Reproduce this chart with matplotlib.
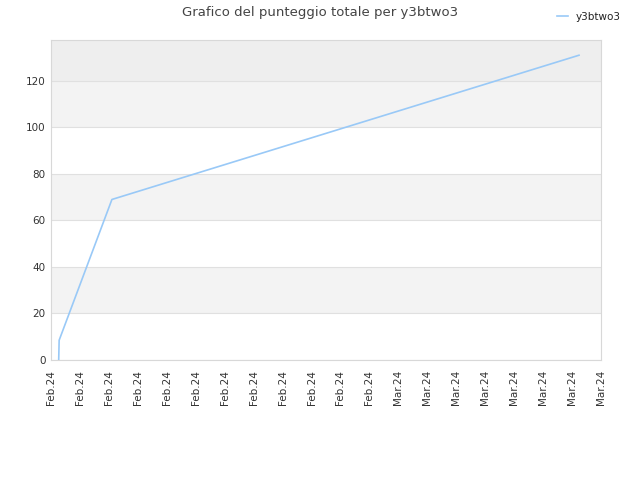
import matplotlib

matplotlib.use("Agg")
import matplotlib.dates as mdates
import matplotlib.pyplot as plt
import pandas as pd

# values
dates = ["2024-02-06 12:45", "2024-02-06 13:30", "2024-02-10 05:00", "2024-03-13 11:30"]
scores = [0, 8.5, 69, 131]
series_name = "y3btwo3"
title = "Grafico del punteggio totale per y3btwo3"

tick_start = "2024-02-06"
tick_end = "2024-03-15"

x = pd.to_datetime(dates)
ticks = pd.date_range(tick_start, tick_end, freq="2D")

fig = plt.figure(figsize=(6.4, 4.8), dpi=100)
ax = fig.add_axes([0.0797, 0.25, 0.8594, 0.6667])

ymax = max(scores) * 1.05
# alternating grey bands between the grid lines
band_edges = list(range(0, 140, 20))
for i, lo in enumerate(band_edges):
    hi = min(lo + 20, ymax)
    if lo >= 120:
        ax.axhspan(lo, hi, color="#eeeeee", zorder=0, lw=0)
    elif i % 2 == 1:
        ax.axhspan(lo, hi, color="#f3f3f3", zorder=0, lw=0)

ax.plot(x, scores, color="#99c9f7", linewidth=1.2, label=series_name, zorder=3)

ax.set_ylim(0, ymax)
ax.set_xlim(ticks[0], ticks[-1])
ax.set_yticks(band_edges)
ax.set_xticks(ticks)
ax.xaxis.set_major_formatter(mdates.DateFormatter("%b.%y"))
ax.yaxis.grid(True, color="#e0e0e0", linewidth=0.8, zorder=1)
ax.set_axisbelow(True)
ax.tick_params(axis="both", length=0, labelsize=7.5, labelcolor="#333333", pad=4)
ax.tick_params(axis="x", rotation=90, pad=7)
for spine in ax.spines.values():
    spine.set_color("#d8d8d8")
    spine.set_linewidth(0.8)

fig.suptitle(title, x=0.5, y=0.988, fontsize=9.5, color="#444444")
fig.legend(
    loc="upper right",
    bbox_to_anchor=(0.985, 0.995),
    frameon=False,
    fontsize=7.5,
    handlelength=1.0,
    labelcolor="#222222",
)

fig.savefig("out.png", dpi=100, facecolor="white")
